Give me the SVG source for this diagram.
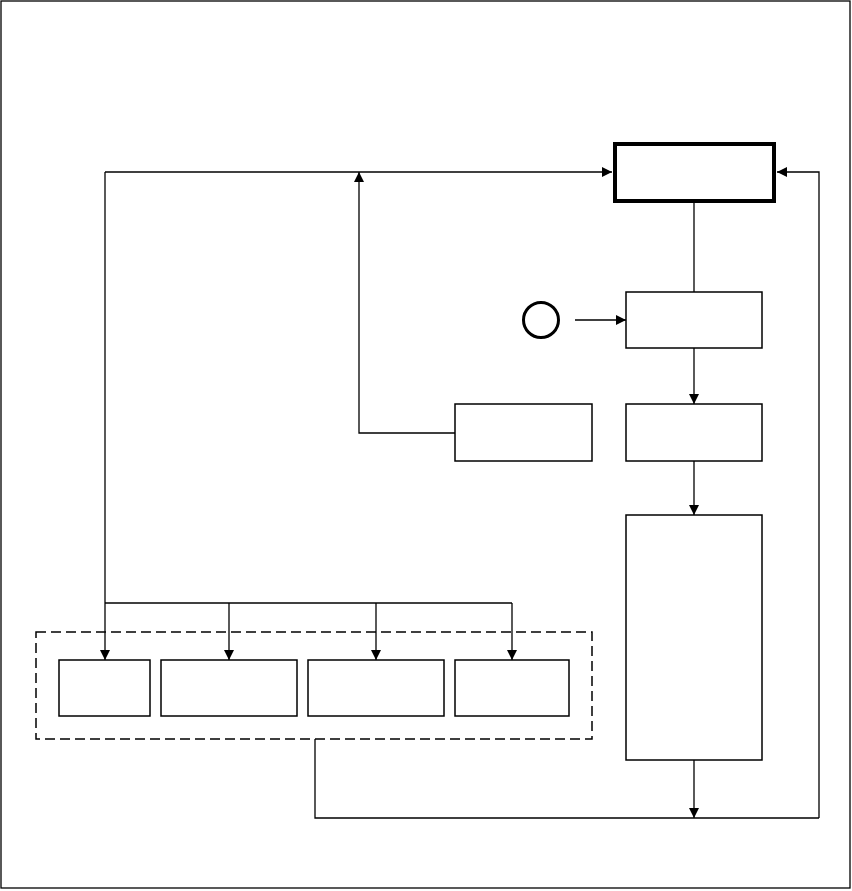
<svg xmlns="http://www.w3.org/2000/svg" width="852" height="891" viewBox="0 0 852 891">
<style>
.box{fill:#fff;stroke:#000;stroke-width:1.5}
.thick{fill:#fff;stroke:#000;stroke-width:4}
.ln{fill:none;stroke:#000;stroke-width:1.3}
.arr{fill:none;stroke:#000;stroke-width:1.3;marker-end:url(#ah)}
.dash{fill:none;stroke:#000;stroke-width:1.5;stroke-dasharray:10 5}
</style>
<defs>
<marker id="ah" viewBox="0 0 10 10" refX="10" refY="5" markerWidth="10" markerHeight="10" markerUnits="userSpaceOnUse" orient="auto">
<path d="M0,0 L10,5 L0,10 Z" fill="#000"/>
</marker>
</defs>
<rect x="0" y="0" width="852" height="891" fill="#fff"/>
<rect id="frame" x="1" y="1" width="849" height="887" fill="none" stroke="#000" stroke-width="1.3"/>
<g id="connectors">
<path class="arr" d="M105,172 L612,172"/>
<path class="arr" d="M819,818 L819,172 L777,172"/>
<path class="ln" d="M694,203 L694,292"/>
<path class="arr" d="M575,320 L626,320"/>
<path class="arr" d="M694,348 L694,404"/>
<path class="arr" d="M455,433 L359,433 L359,172"/>
<path class="arr" d="M694,461 L694,515"/>
<path class="arr" d="M694,760 L694,818"/>
<path class="ln" d="M315,739 L315,818 L819,818"/>
<path class="arr" d="M105,172 L105,660"/>
<path class="ln" d="M105,603 L512,603"/>
<path class="arr" d="M229,603 L229,660"/>
<path class="arr" d="M376,603 L376,660"/>
<path class="arr" d="M512,603 L512,660"/>
</g>
<g id="top"><rect class="thick" x="615" y="144" width="159" height="57"/></g>
<g id="start"><circle cx="541" cy="320" r="17.5" fill="#fff" stroke="#000" stroke-width="3"/></g>
<g id="box2"><rect class="box" x="626" y="292" width="136" height="56"/></g>
<g id="box3"><rect class="box" x="626" y="404" width="136" height="57"/></g>
<g id="boxmid"><rect class="box" x="455" y="404" width="137" height="57"/></g>
<g id="tall"><rect class="box" x="626" y="515" width="136" height="245"/></g>
<g id="group"><rect class="dash" x="36" y="632" width="556" height="107"/></g>
<g id="a"><rect class="box" x="59" y="660" width="91" height="56"/></g>
<g id="b"><rect class="box" x="161" y="660" width="136" height="56"/></g>
<g id="c"><rect class="box" x="308" y="660" width="136" height="56"/></g>
<g id="d"><rect class="box" x="455" y="660" width="114" height="56"/></g>
</svg>
